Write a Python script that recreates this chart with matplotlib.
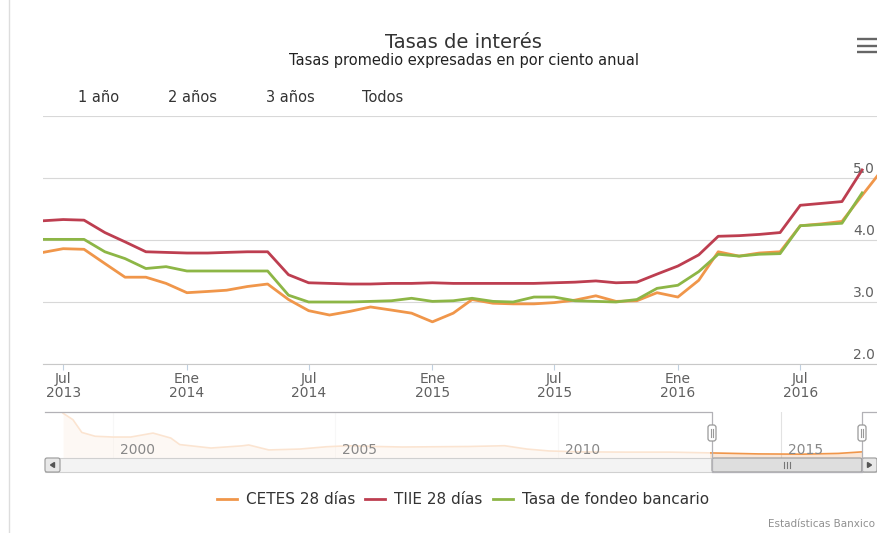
import numpy as np
import matplotlib.pyplot as plt
from matplotlib.patches import Rectangle, FancyBboxPatch, Polygon
from matplotlib.lines import Line2D

W, H = 877, 533

# monthly averages, Jun 2013 .. Nov 2016
months = np.arange('2013-06', '2016-12', dtype='datetime64[M]').astype('datetime64[D]')
cetes = [3.80, 3.86, 3.85, 3.62, 3.40, 3.40, 3.30,
         3.15, 3.17, 3.19, 3.25, 3.29, 3.04, 2.86, 2.79, 2.85, 2.92, 2.87, 2.82,
         2.68, 2.82, 3.04, 2.98, 2.97, 2.97, 2.99, 3.03, 3.10, 3.01, 3.02, 3.15,
         3.08, 3.35, 3.81, 3.74, 3.79, 3.81, 4.23, 4.26, 4.30, 4.72, 5.15]
tiie = [4.31, 4.33, 4.32, 4.12, 3.97, 3.81, 3.80,
        3.79, 3.79, 3.80, 3.81, 3.81, 3.44, 3.31, 3.30, 3.29, 3.29, 3.30, 3.30,
        3.31, 3.30, 3.30, 3.30, 3.30, 3.30, 3.31, 3.32, 3.34, 3.31, 3.32, 3.45,
        3.58, 3.76, 4.06, 4.07, 4.09, 4.12, 4.56, 4.59, 4.62, 5.13]
fondeo = [4.01, 4.01, 4.01, 3.81, 3.70, 3.54, 3.57,
          3.50, 3.50, 3.50, 3.50, 3.50, 3.11, 3.00, 3.00, 3.00, 3.01, 3.02, 3.06,
          3.01, 3.02, 3.06, 3.01, 3.00, 3.08, 3.08, 3.02, 3.01, 3.00, 3.04, 3.22,
          3.27, 3.49, 3.77, 3.74, 3.77, 3.78, 4.23, 4.25, 4.27, 4.76]

names = ['CETES 28 días', 'TIIE 28 días', 'Tasa de fondeo bancario']
colors = ['#f0964a', '#bd3e50', '#8db646']

tick_dates = np.array(['2013-07-01', '2014-01-01', '2014-07-01', '2015-01-01',
                       '2015-07-01', '2016-01-01', '2016-07-01'], dtype='datetime64[D]')
tick_labels = ['Jul\n2013', 'Ene\n2014', 'Jul\n2014', 'Ene\n2015',
               'Jul\n2015', 'Ene\n2016', 'Jul\n2016']
y_ticks = [2, 3, 4, 5, 6]
y_labels = ['2.0', '3.0', '4.0', '5.0']   # last label hidden, as in stock charts

range_buttons = ['1 año', '2 años', '3 años', 'Todos']

# navigator (whole history, decimal years)
nav_years = [1998.88, 1999.1, 1999.3, 1999.6, 2000.0, 2000.4, 2000.9, 2001.3, 2001.5,
             2002.2, 2002.9, 2003.05, 2003.5, 2004.2, 2004.8, 2005.3, 2005.9, 2006.5,
             2007.3, 2008.0, 2008.8, 2009.3, 2009.8, 2010.5, 2011.5, 2012.5, 2013.4,
             2014.5, 2015.5, 2016.3, 2016.83]
nav_vals = [35, 30, 20, 17, 16.4, 16.4, 19.5, 15.6, 10.5,
            7.8, 9.5, 10.2, 6.3, 7.0, 8.8, 9.6, 9.0, 8.6,
            8.8, 9.0, 9.6, 7.0, 5.5, 4.8, 4.6, 4.6, 4.0,
            3.2, 3.0, 3.6, 4.8]
nav_label_years = [2000, 2005, 2010, 2015]
sel_start, sel_end = 2013.42, 2016.83


def px_axes(l, t, r, b):
    return fig.add_axes([l / W, 1 - b / H, (r - l) / W, (b - t) / H])


fig = plt.figure(figsize=(W / 100, H / 100), dpi=100)
fig.patch.set_facecolor('white')

# ---- main chart
ax = px_axes(43, 116, 883, 364)
ax.patch.set_visible(False)
for vals, c in zip([cetes, tiie, fondeo], colors):
    ax.plot(months[:len(vals)], vals, color=c, lw=2.0, solid_joinstyle='round', zorder=3)
ax.set_xlim(months[0], months[-1])
ax.set_ylim(2, 6)
ax.set_yticks(y_ticks)
ax.yaxis.grid(True, color='#d8d8d8', lw=0.8)
ax.set_xticks(tick_dates)
ax.set_xticklabels(tick_labels, linespacing=1.05)
for s in ['top', 'right', 'left']:
    ax.spines[s].set_visible(False)
ax.spines['bottom'].set_color('#c8c8c8')
ax.spines['bottom'].set_linewidth(0.8)
ax.tick_params(axis='x', length=4, width=0.8, color='#c0d0e0', labelsize=10,
               labelcolor='#606060', pad=1.5)
ax.tick_params(axis='y', left=False, labelleft=False)
for v, lab in zip(y_ticks, y_labels):
    ax.annotate(lab, xy=(1, v), xycoords=('axes fraction', 'data'), xytext=(-8, 2),
                textcoords='offset pixels', ha='right', va='bottom', fontsize=10,
                color='#606060')

# ---- navigator
nav = px_axes(60, 412, 862, 458)
nav.patch.set_visible(False)
nav.fill_between(nav_years, nav_vals, 0, color=colors[0], alpha=0.22, lw=0, zorder=2)
nav.plot(nav_years, nav_vals, color=colors[0], lw=1.2, zorder=2)
nav.set_xlim(1998.81, 2016.83)
nav.set_ylim(0, 36)
nav.axvspan(1998.81, sel_start, color='white', alpha=0.75, lw=0, zorder=3)
nav.set_xticks(nav_label_years)
nav.xaxis.grid(True, color='#e2e2e2', lw=0.8)
nav.set_yticks([])
nav.tick_params(axis='x', length=0, labelbottom=False)
for s in nav.spines.values():
    s.set_visible(False)
for yr in nav_label_years:
    nav.annotate(str(yr), xy=(yr, 0), xycoords=('data', 'axes fraction'), xytext=(7, 4),
                 textcoords='offset pixels', ha='left', va='baseline', fontsize=10,
                 color='#888888', zorder=4)

# ---- overlay in pixel coordinates
ov = fig.add_axes([0, 0, 1, 1])
ov.set_xlim(0, W)
ov.set_ylim(H, 0)
ov.axis('off')

ov.plot([9, 9], [0, H], color='#dddddd', lw=1)

ov.text(463, 42, 'Tasas de interés', ha='center', va='center', fontsize=14, color='#333333')
ov.text(464, 61, 'Tasas promedio expresadas en por ciento anual', ha='center', va='center',
        fontsize=10.5, color='#222222')

for x0, lab in zip([78, 168, 266, 362], range_buttons):
    ov.text(x0, 98, lab, ha='left', va='center', fontsize=10.5, color='#333333')

for yy in [39, 45.5, 52]:
    ov.plot([857, 877], [yy, yy], color='#666666', lw=1.7, solid_capstyle='butt')

# scrollbar
ov.add_patch(Rectangle((45, 458), 832, 14, facecolor='#f3f3f3', edgecolor='#d0d0d0', lw=0.8))
ov.add_patch(FancyBboxPatch((45, 458), 15, 14, boxstyle='round,pad=0,rounding_size=2',
                            facecolor='#e8e8e8', edgecolor='#999999', lw=0.8))
ov.add_patch(Polygon([[54.5, 462.5], [54.5, 467.5], [50.5, 465]], color='#555555'))
ov.add_patch(FancyBboxPatch((712, 458), 150, 14, boxstyle='round,pad=0,rounding_size=2',
                            facecolor='#dedede', edgecolor='#999999', lw=0.8))
for gx in [784, 787, 790]:
    ov.plot([gx, gx], [462, 468], color='#777777', lw=0.8)
ov.add_patch(FancyBboxPatch((862, 458), 15, 14, boxstyle='round,pad=0,rounding_size=2',
                            facecolor='#e8e8e8', edgecolor='#999999', lw=0.8))
ov.add_patch(Polygon([[867.5, 462.5], [867.5, 467.5], [871.5, 465]], color='#555555'))

# navigator outline and handles
ov.plot([45, 712, 712, 862, 862, 877], [412, 412, 472, 472, 412, 412], color='#b2b1b6', lw=0.9)
for hx in [712, 862]:
    ov.add_patch(FancyBboxPatch((hx - 4, 425), 8, 16, boxstyle='round,pad=0,rounding_size=2.5',
                                facecolor='white', edgecolor='#999999', lw=0.9, zorder=5))
    for dx in [-1.3, 1.3]:
        ov.plot([hx + dx, hx + dx], [429, 437], color='#999999', lw=0.8, zorder=6)

ov.text(768, 524, 'Estadísticas Banxico', ha='left', va='center', fontsize=7.5, color='#909090')

handles = [Line2D([], [], color=c, lw=2.0) for c in colors]
fig.legend(handles, names, ncol=3, loc='center', bbox_to_anchor=(463 / W, 1 - 500 / H),
           frameon=False, fontsize=11, labelcolor='#333333', handlelength=1.3,
           handletextpad=0.6, columnspacing=0.65, borderpad=0, borderaxespad=0)

fig.savefig('out.png', dpi=100)
